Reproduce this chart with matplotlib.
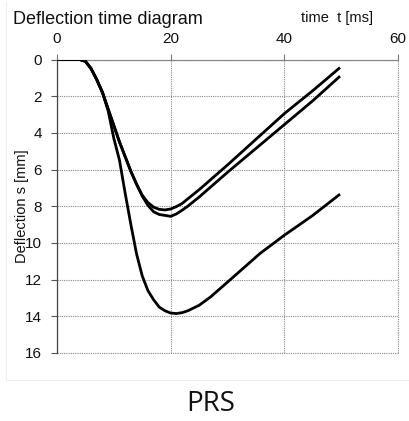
import matplotlib
matplotlib.use("Agg")
import matplotlib.pyplot as plt
from matplotlib.lines import Line2D

plt.rcParams['font.family'] = ['Liberation Sans', 'DejaVu Sans']

# ── data ────────────────────────────────────────────
t_a = [0, 4, 5, 6, 7, 8, 9, 10, 11, 12, 13, 14, 15, 16, 17, 18, 19, 20, 21, 22,
       23, 25, 30, 35, 40, 45, 49.8]
s_a = [0, 0, 0.1, 0.5, 1.1, 1.8, 2.7, 3.6, 4.5, 5.3, 6.1, 6.8, 7.4, 7.8, 8.05,
       8.17, 8.2, 8.15, 8.02, 7.85, 7.6, 7.1, 5.75, 4.35, 2.95, 1.7, 0.44]

t_b = [0, 4, 5, 6, 7, 8, 9, 10, 11, 12, 13, 14, 15, 16, 17, 18, 19, 20, 21, 22,
       23, 25, 30, 35, 40, 45, 49.8]
s_b = [0, 0, 0.1, 0.5, 1.1, 1.8, 2.7, 3.6, 4.5, 5.3, 6.1, 6.8, 7.45, 7.95, 8.3,
       8.45, 8.5, 8.55, 8.42, 8.22, 8.0, 7.5, 6.15, 4.85, 3.55, 2.25, 0.91]

t_c = [0, 4, 5, 6, 7, 8, 9, 10, 11, 12, 13, 14, 15, 16, 17, 18, 19, 20, 21, 22,
       23, 25, 27, 30.5, 35.7, 40, 45, 49.8]
s_c = [0, 0, 0.1, 0.5, 1.1, 1.8, 2.8, 4.3, 5.5, 7.3, 9.0, 10.6, 11.8, 12.6, 13.1,
       13.5, 13.7, 13.82, 13.85, 13.8, 13.7, 13.4, 12.95, 12.0, 10.58, 9.58, 8.5, 7.34]

x_ticks = [0, 20, 40, 60]
y_ticks = [0, 2, 4, 6, 8, 10, 12, 14, 16]

W, H = 409, 421
fig = plt.figure(figsize=(W / 100, H / 100), dpi=100)
fig.patch.set_facecolor('white')
ax = fig.add_axes([57 / W, 1 - 353 / H, (398 - 57) / W, (353 - 59.5) / H])

for t, s in [(t_a, s_a), (t_b, s_b), (t_c, s_c)]:
    ax.plot(t, s, color='black', lw=2.0, solid_capstyle='butt',
            solid_joinstyle='round', zorder=3)

ax.set_xlim(0, 60)
ax.set_ylim(16, 0)
ax.xaxis.tick_top()
ax.set_xticks(x_ticks)
ax.set_yticks(y_ticks)
ax.tick_params(axis='x', direction='out', length=4, width=0.8, color='#777777',
               labelsize=11, pad=6, labelcolor='#111111')
ax.tick_params(axis='y', direction='out', length=4, width=0.8, color='#555555',
               labelsize=11, pad=7, labelcolor='#111111')
ax.grid(True, color='#888888', linestyle=(0, (1, 1)), lw=0.8, zorder=1)

for side in ['right', 'bottom']:
    ax.spines[side].set_visible(False)
ax.spines['top'].set_color('#888888')
ax.spines['top'].set_linewidth(0.9)
ax.spines['left'].set_color('#444444')
ax.spines['left'].set_linewidth(0.9)
# dotted outer edges like the grid
ax.axhline(16, color='#888888', linestyle=(0, (1, 1)), lw=0.8, clip_on=False)
ax.axvline(60, color='#888888', linestyle=(0, (1, 1)), lw=0.8, clip_on=False)

ax.set_ylabel('Deflection s [mm]', fontsize=10.5, color='#111111')
ax.yaxis.set_label_coords(-0.082, 0.5)

fig.text(13 / W, 1 - 20 / H, 'Deflection time diagram', fontsize=13,
         ha='left', va='center', color='#111111')
fig.text(337 / W, 1 - 18 / H, 'time  t [ms]', fontsize=10.5,
         ha='center', va='center', color='#111111')
fig.text(211 / W, 1 - 404 / H, 'PRS', fontsize=20, family='Open Sans',
         ha='center', va='center', color='#111111')

# faint frame around the chart
fig.add_artist(Line2D([6 / W, 6 / W], [1 - 2 / H, 1 - 380 / H],
                      color='#eeeeee', lw=0.8, transform=fig.transFigure))
fig.add_artist(Line2D([6 / W, 1], [1 - 380 / H, 1 - 380 / H],
                      color='#eeeeee', lw=0.8, transform=fig.transFigure))

fig.savefig('out.png', dpi=100, facecolor='white')
